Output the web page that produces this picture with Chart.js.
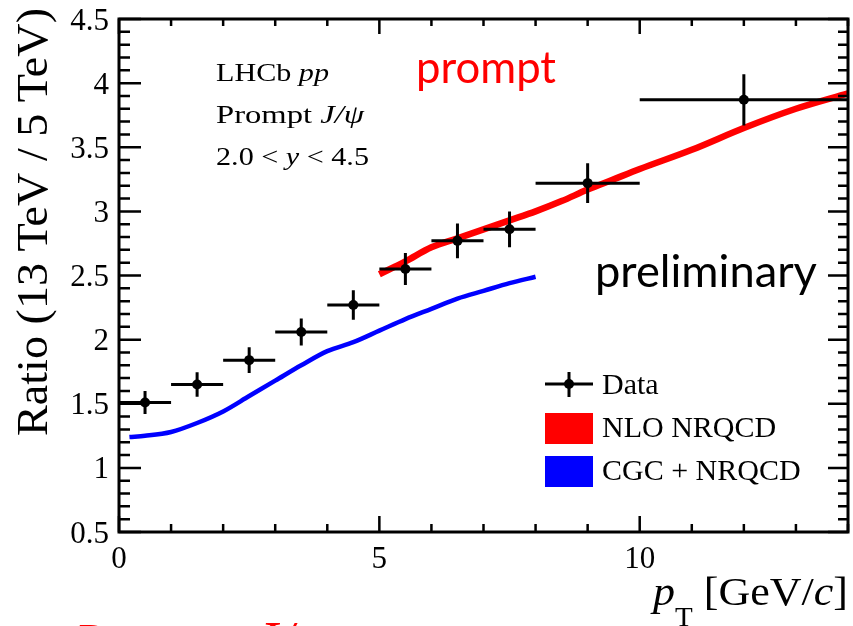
<!DOCTYPE html>
<html>
<head>
<meta charset="utf-8">
<script src="https://cdn.jsdelivr.net/npm/chart.js@4.4.1/dist/chart.umd.min.js"></script>
<style>
  html, body { margin: 0; padding: 0; background: #fff; }
  #wrap { width: 853px; height: 626px; }
</style>
</head>
<body>
<div id="wrap"><canvas id="ratioChart" width="853" height="626"></canvas></div>
<script>
const dataPt = [0.5, 1.5, 2.5, 3.5, 4.5, 5.5, 6.5, 7.5, 9, 12];
const binLow = [0, 1, 2, 3, 4, 5, 6, 7, 8, 10];
const binHigh = [1, 2, 3, 4, 5, 6, 7, 8, 10, 14];
const ratio = [1.51, 1.65, 1.84, 2.06, 2.27, 2.55, 2.77, 2.86, 3.22, 3.87];
const ratioErr = [0.09, 0.095, 0.10, 0.105, 0.115, 0.125, 0.135, 0.14, 0.155, 0.20];

// NLO NRQCD curve
const nloPt = [5, 5.5, 6, 6.5, 7, 7.5, 8, 8.5, 9, 9.5, 10, 11, 12, 13, 14];
const nloRatio = [2.51, 2.61, 2.72, 2.79, 2.86, 2.93, 3.00, 3.08, 3.17, 3.25, 3.33, 3.48, 3.65, 3.80, 3.92];

// CGC + NRQCD curve
const cgcPt = [0.2, 0.5, 1, 1.5, 2, 2.5, 3, 3.5, 4, 4.5, 5, 5.5, 6, 6.5, 7, 7.5, 8];
const cgcRatio = [1.24, 1.25, 1.28, 1.35, 1.44, 1.56, 1.68, 1.80, 1.91, 1.98, 2.07, 2.16, 2.24, 2.32, 2.38, 2.44, 2.49];

// axis ticks
const xTicks = [0, 5, 10];
const yTicks = [0.5, 1, 1.5, 2, 2.5, 3, 3.5, 4, 4.5];

const serif = '"Liberation Serif", "Times New Roman", serif';
const sans = 'Lato, "Open Sans", sans-serif';

Chart.defaults.font.family = serif;

// 画一行混合字体的文字
function drawRuns(ctx, x, y, runs) {
    runs.forEach(r => {
        ctx.font = r.font;
        ctx.fillText(r.text, x, y + (r.dy || 0));
        x += ctx.measureText(r.text).width;
    });
    return x;
}

function runsWidth(ctx, runs) {
    let w = 0;
    runs.forEach(r => { ctx.font = r.font; w += ctx.measureText(r.text).width; });
    return w;
}

// 横向拉伸到指定宽度
function drawStretched(ctx, x, y, runs, targetWidth) {
    const sx = targetWidth / runsWidth(ctx, runs);
    ctx.save();
    ctx.translate(x, y);
    ctx.scale(sx, 1);
    drawRuns(ctx, 0, 0, runs);
    ctx.restore();
}

function fitText(ctx, text, family, targetWidth) {
    ctx.font = `100px ${family}`;
    return 100 * targetWidth / ctx.measureText(text).width;
}

// ROOT style frame with inward ticks
const framePlugin = {
    id: 'frame',
    afterDatasetsDraw(chart) {
        const ctx = chart.ctx;
        const xs = chart.scales.x, ys = chart.scales.y;
        ctx.save();
        ctx.strokeStyle = '#000';
        ctx.lineWidth = 3;
        ctx.lineCap = 'butt';
        for (let i = 0; i < dataPt.length; i++) {
            const px = xs.getPixelForValue(dataPt[i]);
            const py = ys.getPixelForValue(ratio[i]);
            ctx.beginPath();
            ctx.moveTo(xs.getPixelForValue(binLow[i]), py);
            ctx.lineTo(xs.getPixelForValue(binHigh[i]), py);
            ctx.moveTo(px, ys.getPixelForValue(ratio[i] - ratioErr[i]));
            ctx.lineTo(px, ys.getPixelForValue(ratio[i] + ratioErr[i]));
            ctx.stroke();
        }
        ctx.restore();
    },
    afterDraw(chart) {
        const ctx = chart.ctx;
        const a = chart.chartArea;
        const xs = chart.scales.x, ys = chart.scales.y;
        ctx.save();
        ctx.strokeStyle = '#000';
        ctx.fillStyle = '#000';
        ctx.lineWidth = 3;
        ctx.strokeRect(a.left, a.top, a.right - a.left, a.bottom - a.top);

        ctx.lineWidth = 2.5;
        ctx.beginPath();
        for (let i = 5; i <= 45; i++) {
            const v = i / 10;
            const py = ys.getPixelForValue(v);
            const major = i % 5 === 0;
            ctx.moveTo(a.left, py); ctx.lineTo(a.left + (major ? 22 : 11), py);
            ctx.moveTo(a.right, py); ctx.lineTo(a.right - (major ? 20 : 10), py);
        }
        for (let v = 0; v <= 14; v++) {
            const px = xs.getPixelForValue(v);
            const major = v % 5 === 0;
            ctx.moveTo(px, a.bottom); ctx.lineTo(px, a.bottom - (major ? 16 : 8));
            ctx.moveTo(px, a.top); ctx.lineTo(px, a.top + (major ? 15 : 7));
        }
        ctx.stroke();

        // tick labels from the scales' ticks
        ctx.font = `31px ${serif}`;
        ctx.textBaseline = 'alphabetic';
        ctx.textAlign = 'right';
        ys.ticks.forEach(t => {
            ctx.fillText(String(t.value), a.left - 10, ys.getPixelForValue(t.value) + 10.5);
        });
        ctx.textAlign = 'center';
        xs.ticks.forEach(t => {
            ctx.fillText(String(t.value), xs.getPixelForValue(t.value), a.bottom + 36);
        });

        // y title
        ctx.save();
        ctx.translate(47, 8);
        ctx.rotate(-Math.PI / 2);
        ctx.textAlign = 'right';
        ctx.font = `45px ${serif}`;
        const yTitle = 'Ratio (13 TeV / 5 TeV)';
        ctx.scale(428 / ctx.measureText(yTitle).width, 1);
        ctx.fillText(yTitle, 0, 0);
        ctx.restore();

        ctx.textAlign = 'left';

        // x title
        const xt = [
            { text: 'p', font: `italic 41px ${serif}` },
            { text: 'T', font: `27px ${serif}`, dy: 21 },
            { text: ' [GeV/', font: `41px ${serif}` },
            { text: 'c', font: `italic 41px ${serif}` },
            { text: ']', font: `41px ${serif}` }
        ];
        drawStretched(ctx, 653, 605, xt, 195);

        // labels
        drawStretched(ctx, 216, 81, [
            { text: 'LHCb ', font: `25px ${serif}` },
            { text: 'pp', font: `italic 25px ${serif}` }
        ], 113);
        drawStretched(ctx, 216, 123, [
            { text: 'Prompt ', font: `25px ${serif}` },
            { text: 'J/\u03C8', font: `italic 25px ${serif}` }
        ], 148);
        drawStretched(ctx, 216, 165, [
            { text: '2.0 < ', font: `25px ${serif}` },
            { text: 'y', font: `italic 25px ${serif}` },
            { text: ' < 4.5', font: `25px ${serif}` }
        ], 153);

        ctx.fillStyle = '#ff0000';
        ctx.font = `${fitText(ctx, 'prompt', sans, 140)}px ${sans}`;
        ctx.fillText('prompt', 416, 83);
        ctx.fillStyle = '#000';
        ctx.font = `${fitText(ctx, 'preliminary', sans, 222)}px ${sans}`;
        ctx.fillText('preliminary', 595, 287);

        // cut-off slide title at bottom
        ctx.fillStyle = '#ff0000';
        ctx.font = `52px ${sans}`;
        ctx.fillText('Prompt', 75, 663);
        ctx.font = `italic 56px ${serif}`;
        ctx.fillText('J/\u03C8', 253, 661);

        // legend
        ctx.fillStyle = '#000';
        ctx.strokeStyle = '#000';
        ctx.lineWidth = 3;
        ctx.beginPath();
        ctx.moveTo(545, 384); ctx.lineTo(593, 384);
        ctx.moveTo(569, 372); ctx.lineTo(569, 397);
        ctx.stroke();
        ctx.beginPath();
        ctx.arc(569, 384, 5, 0, Math.PI * 2);
        ctx.fill();
        ctx.fillStyle = '#ff0000';
        ctx.fillRect(545, 413, 48, 31);
        ctx.fillStyle = '#0000ff';
        ctx.fillRect(545, 456, 48, 31);
        ctx.fillStyle = '#000';
        ctx.font = `30px ${serif}`;
        ctx.fillText('Data', 602, 394);
        ctx.fillText('NLO NRQCD', 602, 437);
        ctx.fillText('CGC + NRQCD', 602, 480);
        ctx.restore();
    }
};

const ctx = document.getElementById('ratioChart');
const chart = new Chart(ctx, {
    type: 'scatter',
    data: {
        datasets: [
            {
                label: 'Data',
                data: dataPt.map((x, i) => ({ x: x, y: ratio[i] })),
                pointRadius: 5,
                pointBackgroundColor: '#000',
                pointBorderWidth: 0,
                showLine: false
            },
            {
                label: 'NLO NRQCD',
                data: nloPt.map((x, i) => ({ x: x, y: nloRatio[i] })),
                showLine: true,
                borderColor: '#ff0000',
                borderWidth: 6.5,
                pointRadius: 0,
                cubicInterpolationMode: 'monotone'
            },
            {
                label: 'CGC + NRQCD',
                data: cgcPt.map((x, i) => ({ x: x, y: cgcRatio[i] })),
                showLine: true,
                borderColor: '#0000ff',
                borderWidth: 4.5,
                pointRadius: 0,
                cubicInterpolationMode: 'monotone'
            }
        ]
    },
    options: {
        responsive: false,
        animation: false,
        layout: { padding: { left: 0, top: 19, right: 2.5, bottom: 0 } },
        plugins: {
            legend: { display: false },
            tooltip: { enabled: false }
        },
        scales: {
            x: {
                type: 'linear',
                min: 0,
                max: 14,
                grid: { display: false, drawTicks: false },
                border: { display: false },
                afterBuildTicks: s => { s.ticks = xTicks.map(v => ({ value: v })); },
                afterFit: s => { s.height = 94; },
                ticks: { display: false }
            },
            y: {
                min: 0.5,
                max: 4.5,
                grid: { display: false, drawTicks: false },
                border: { display: false },
                afterBuildTicks: s => { s.ticks = yTicks.map(v => ({ value: v })); },
                afterFit: s => { s.width = 119; },
                ticks: { display: false }
            }
        }
    },
    plugins: [framePlugin]
});
</script>
</body>
</html>
